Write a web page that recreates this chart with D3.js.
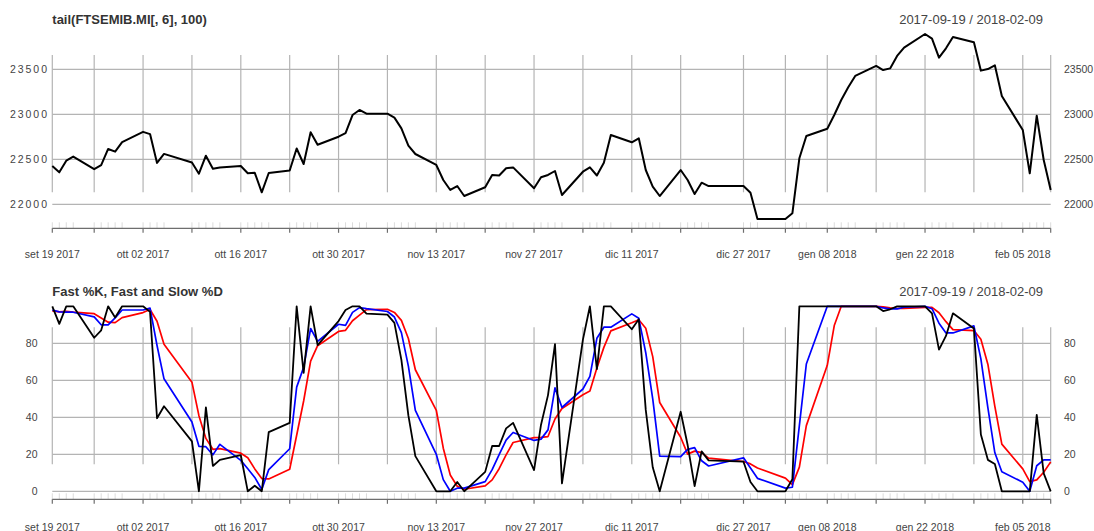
<!DOCTYPE html>
<html>
<head>
<meta charset="utf-8">
<script src="https://cdn.jsdelivr.net/npm/d3@7"></script>
<style>
    html, body { margin: 0; padding: 0; background: #fff; overflow: hidden; }
    svg { display: block; font-family: "Liberation Sans", Arial, sans-serif; }
</style>
</head>
<body>
<svg id="chart"></svg>
<script>
// trading days shown (tail of 100 observations)
const dates = [
    '2017-09-19','2017-09-20','2017-09-21','2017-09-22','2017-09-25','2017-09-26','2017-09-27','2017-09-28','2017-09-29',
    '2017-10-02','2017-10-03','2017-10-04','2017-10-05','2017-10-09','2017-10-10','2017-10-11','2017-10-12','2017-10-13',
    '2017-10-16','2017-10-17','2017-10-18','2017-10-19','2017-10-20','2017-10-23','2017-10-24','2017-10-25','2017-10-26',
    '2017-10-27','2017-10-30','2017-10-31',
    '2017-11-01','2017-11-02','2017-11-03','2017-11-06','2017-11-07','2017-11-08','2017-11-09','2017-11-10','2017-11-13',
    '2017-11-14','2017-11-15','2017-11-16','2017-11-17','2017-11-20','2017-11-21','2017-11-22','2017-11-23','2017-11-24',
    '2017-11-27','2017-11-28','2017-11-29','2017-11-30',
    '2017-12-01','2017-12-04','2017-12-05','2017-12-06','2017-12-07','2017-12-08','2017-12-11','2017-12-12','2017-12-13',
    '2017-12-14','2017-12-15','2017-12-18','2017-12-19','2017-12-20','2017-12-21','2017-12-22','2017-12-27','2017-12-28',
    '2017-12-29',
    '2018-01-02','2018-01-03','2018-01-04','2018-01-05','2018-01-08','2018-01-09','2018-01-10','2018-01-11','2018-01-12',
    '2018-01-15','2018-01-16','2018-01-17','2018-01-18','2018-01-19','2018-01-22','2018-01-23','2018-01-24','2018-01-25',
    '2018-01-26','2018-01-29','2018-01-30','2018-01-31',
    '2018-02-01','2018-02-02','2018-02-05','2018-02-06','2018-02-07','2018-02-08','2018-02-09'
];

const price = [
    22425, 22355, 22485, 22530, 22390, 22435, 22615, 22585, 22690,
    22805, 22780, 22460, 22560, 22465, 22340, 22540, 22395, 22410,
    22425, 22345, 22350, 22133, 22348, 22375, 22620, 22448, 22800, 22662, 22751, 22790,
    22992, 23048, 23007, 23007, 22963, 22844, 22651, 22559, 22437, 22270, 22159, 22203, 22092,
    22189, 22326, 22320, 22400, 22410, 22178, 22300, 22326, 22370,
    22103, 22362, 22410, 22320, 22462, 22770, 22689, 22733, 22381, 22196, 22092,
    22381, 22270, 22114, 22240, 22203, 22203, 22129, 21837,
    21837, 21900, 22511, 22759, 22840, 22992, 23159, 23300, 23426, 23537, 23492, 23510, 23648, 23740,
    23892, 23840, 23630, 23733, 23859, 23800, 23485, 23503,
    23544, 23203, 22826, 22344, 22985, 22492, 22159
];

const fastK = [
    100, 90.5, 100, 100, 83, 87, 100, 94, 100,
    100, 97, 39.5, 46, 27, 0, 45.4, 13.7, 17, 19.5, 0, 3, 0, 32, 37, 100, 64, 100, 79, 92, 98,
    100, 100, 96, 95.5, 91, 71, 41, 19, 0, 0, 0, 5, 0, 10.5, 24.5, 24.5, 34, 37, 11.5, 36, 52, 79.6,
    4.3, 82, 100, 66, 100, 100, 87.6, 93, 44, 13, 0, 43, 25, 2.8, 21.6, 16.7, 16, 5, 0,
    0, 6.5, 100, 100, 100, 100, 100, 100, 100, 100, 97.4, 98.4, 100, 100, 100, 96.2, 76.6, 84, 96.2, 88, 30.7, 17,
    14.8, 0, 0, 0, 41.3, 9.7, 0
];

const fastD = [
    98, 97, 96.8, 96.8, 94.3, 90, 90, 93.7, 98,
    98, 99, 78.8, 60.8, 37.5, 24.3, 24.1, 19.7, 25.4, 16.7, 12.2, 7.5, 1, 11.7, 23, 56.3, 67, 88, 81, 90.3, 89.7,
    96.7, 99.3, 98.7, 97.2, 94.2, 85.8, 67.7, 43.7, 20, 6.3, 0, 1.7, 1.7, 5.2, 11.7, 19.8, 27.7, 31.8, 27.5, 28.2, 33.2, 55.9,
    45.3, 55.3, 62.1, 82.7, 88.7, 88.7, 95.9, 93.5, 74.9, 50, 19, 18.7, 22.7, 23.6, 16.5, 13.7, 18.1, 12.6, 7,
    1.7, 2.2, 35.5, 68.8, 100, 100, 100, 100, 100, 100, 99.1, 98.6, 98.6, 99.5, 100, 98.7, 90.9, 85.6, 85.6, 89.4, 71.6, 45.2,
    20.8, 10.6, 4.9, 0, 13.8, 17, 17
];

const slowD = [
    97.5, 97, 97.3, 96.9, 96, 93.7, 91.4, 91.2, 93.9,
    96.6, 98.3, 91.9, 79.5, 59, 40.9, 28.6, 22.7, 23.1, 20.6, 18.1, 12.1, 6.9, 6.7, 11.9, 30.3, 48.8, 70.4, 78.7, 86.4, 87,
    92.2, 95.2, 98.2, 98.4, 96.7, 92.4, 82.6, 65.7, 43.8, 23.3, 8.8, 2.7, 1.1, 2.9, 6.2, 12.2, 19.7, 26.4, 29, 29.2, 29.6, 39.1,
    44.8, 52.2, 54.2, 66.7, 77.8, 86.7, 91.1, 92.7, 88.1, 72.8, 48, 29.2, 20.1, 21.7, 20.9, 17.9, 16.1, 14.8, 12.6,
    7.1, 3.6, 13.1, 35.5, 68.1, 89.6, 100, 100, 100, 100, 99.7, 99.2, 98.8, 98.9, 99.4, 99.4, 96.5, 91.7, 87.4, 86.9, 82.2, 68.7,
    45.9, 25.5, 12.1, 5.2, 6.2, 10.3, 15.9
];

// first trading day of each week (grid lines + major ticks), plus the last day
const weekStarts = [
    '2017-09-19','2017-09-25','2017-10-02','2017-10-09','2017-10-16','2017-10-23','2017-10-30','2017-11-06',
    '2017-11-13','2017-11-20','2017-11-27','2017-12-04','2017-12-11','2017-12-18','2017-12-27','2018-01-02',
    '2018-01-08','2018-01-15','2018-01-22','2018-01-29','2018-02-05','2018-02-09'
];
const tickLabelDates = [
    '2017-09-19','2017-10-02','2017-10-16','2017-10-30','2017-11-13','2017-11-27',
    '2017-12-11','2017-12-27','2018-01-08','2018-01-22','2018-02-05'
];
const tickLabels = [
    'set 19 2017','ott 02 2017','ott 16 2017','ott 30 2017','nov 13 2017','nov 27 2017',
    'dic 11 2017','dic 27 2017','gen 08 2018','gen 22 2018','feb 05 2018'
];
const priceTicks = [22000, 22500, 23000, 23500];
const stochTicks = [0, 20, 40, 60, 80];
const rangeText = '2017-09-19 / 2018-02-09';

class XtsChart {
    constructor(_config) {
        this.config = {
            parentElement: _config.parentElement,
            containerWidth: 1094,
            containerHeight: 531,
            plotLeft: 52.3,
            plotRight: 1050.7,
            rangeRight: 1043,
            rightLabelX: 1064,
            labelFont: 10.5,
            textColor: '#333333',
            gridColor: '#b4b4b4',
            axisColor: '#6e6e6e'
        };
        this.initVis();
    }

    initVis() {
        let vis = this;
        vis.parse = d3.utcParse('%Y-%m-%d');
        vis.days = dates.map(vis.parse);

        vis.svg = d3.select(vis.config.parentElement)
            .attr('width', vis.config.containerWidth)
            .attr('height', vis.config.containerHeight);

        vis.xScale = d3.scaleUtc()
            .domain([vis.days[0], vis.days[vis.days.length - 1]])
            .range([vis.config.plotLeft, vis.config.plotRight]);

        // price panel
        vis.drawPanel({
            title: 'tail(FTSEMIB.MI[, 6], 100)',
            titleY: 23.5,
            gridTop: 55, gridBottom: 192.3,
            axisY: 228.3, labelY: 258,
            yScale: d3.scaleLinear().domain([22000, 23500]).range([204.3, 69.3]),
            ticks: priceTicks,
            leftLabelX: 47, leftLabelWidth: 37,
            series: [{ values: price, color: '#000000', width: 2 }]
        });

        // stochastic panel
        vis.drawPanel({
            title: 'Fast %K, Fast and Slow %D',
            titleY: 296,
            gridTop: 327.3, gridBottom: 464.3,
            axisY: 499.3, labelY: 530.5,
            yScale: d3.scaleLinear().domain([0, 100]).range([491.3, 306.3]),
            ticks: stochTicks,
            leftLabelX: 37.5, leftLabelWidth: null,
            series: [
                { values: slowD, color: '#ff0000', width: 1.7 },
                { values: fastD, color: '#0000ff', width: 1.7 },
                { values: fastK, color: '#000000', width: 1.8 }
            ]
        });
    }

    drawPanel(p) {
        let vis = this;
        const cfg = vis.config;
        const g = vis.svg.append('g');

        // horizontal grid lines
        g.selectAll('.hgrid')
            .data(p.ticks)
            .join('line')
            .attr('x1', cfg.plotLeft)
            .attr('x2', cfg.plotRight)
            .attr('y1', d => p.yScale(d))
            .attr('y2', d => p.yScale(d))
            .attr('stroke', cfg.gridColor)
            .attr('stroke-width', 1.2);

        // vertical grid lines
        g.selectAll('.vgrid')
            .data(weekStarts.map(vis.parse))
            .join('line')
            .attr('x1', d => vis.xScale(d))
            .attr('x2', d => vis.xScale(d))
            .attr('y1', p.gridTop)
            .attr('y2', p.gridBottom)
            .attr('stroke', cfg.gridColor)
            .attr('stroke-width', 1.2);

        // minor ticks, one per observation
        g.selectAll('.minor')
            .data(vis.days)
            .join('line')
            .attr('x1', d => vis.xScale(d))
            .attr('x2', d => vis.xScale(d))
            .attr('y1', p.axisY - 6)
            .attr('y2', p.axisY)
            .attr('stroke', '#dcdcdc')
            .attr('stroke-width', 1);

        // axis line and major ticks
        g.append('line')
            .attr('x1', cfg.plotLeft)
            .attr('x2', cfg.plotRight)
            .attr('y1', p.axisY)
            .attr('y2', p.axisY)
            .attr('stroke', cfg.axisColor)
            .attr('stroke-width', 1.2);

        g.selectAll('.major')
            .data(weekStarts.map(vis.parse))
            .join('line')
            .attr('x1', d => vis.xScale(d))
            .attr('x2', d => vis.xScale(d))
            .attr('y1', p.axisY)
            .attr('y2', p.axisY + 4.5)
            .attr('stroke', cfg.axisColor)
            .attr('stroke-width', 1.2);

        // x labels
        g.selectAll('.xlab')
            .data(tickLabelDates)
            .join('text')
            .attr('x', d => vis.xScale(vis.parse(d)))
            .attr('y', p.labelY)
            .attr('text-anchor', 'middle')
            .attr('font-size', cfg.labelFont + 'px')
            .attr('fill', '#444444')
            .text((d, i) => tickLabels[i]);

        // y labels, both sides
        const left = g.selectAll('.ylabL')
            .data(p.ticks)
            .join('text')
            .attr('x', p.leftLabelX)
            .attr('y', d => p.yScale(d))
            .attr('dy', '0.35em')
            .attr('text-anchor', 'end')
            .attr('font-size', cfg.labelFont + 'px')
            .attr('fill', '#444444')
            .text(d => d);
        if (p.leftLabelWidth) {
            left.attr('textLength', p.leftLabelWidth);
        }

        g.selectAll('.ylabR')
            .data(p.ticks)
            .join('text')
            .attr('x', cfg.rightLabelX)
            .attr('y', d => p.yScale(d))
            .attr('dy', '0.35em')
            .attr('text-anchor', 'start')
            .attr('font-size', cfg.labelFont + 'px')
            .attr('fill', '#444444')
            .text(d => d);

        // titles
        g.append('text')
            .attr('x', cfg.plotLeft)
            .attr('y', p.titleY)
            .attr('font-size', '13px')
            .attr('font-weight', 'bold')
            .attr('fill', cfg.textColor)
            .text(p.title);

        g.append('text')
            .attr('x', cfg.rangeRight)
            .attr('y', p.titleY)
            .attr('text-anchor', 'end')
            .attr('font-size', '13px')
            .attr('fill', '#444444')
            .text(rangeText);

        // series
        p.series.forEach(s => {
            const line = d3.line()
                .x((d, i) => vis.xScale(vis.days[i]))
                .y(d => p.yScale(d));
            g.append('path')
                .datum(s.values)
                .attr('d', line)
                .attr('fill', 'none')
                .attr('stroke', s.color)
                .attr('stroke-width', s.width)
                .attr('stroke-linejoin', 'round');
        });
    }
}

new XtsChart({ parentElement: '#chart' });
</script>
</body>
</html>
